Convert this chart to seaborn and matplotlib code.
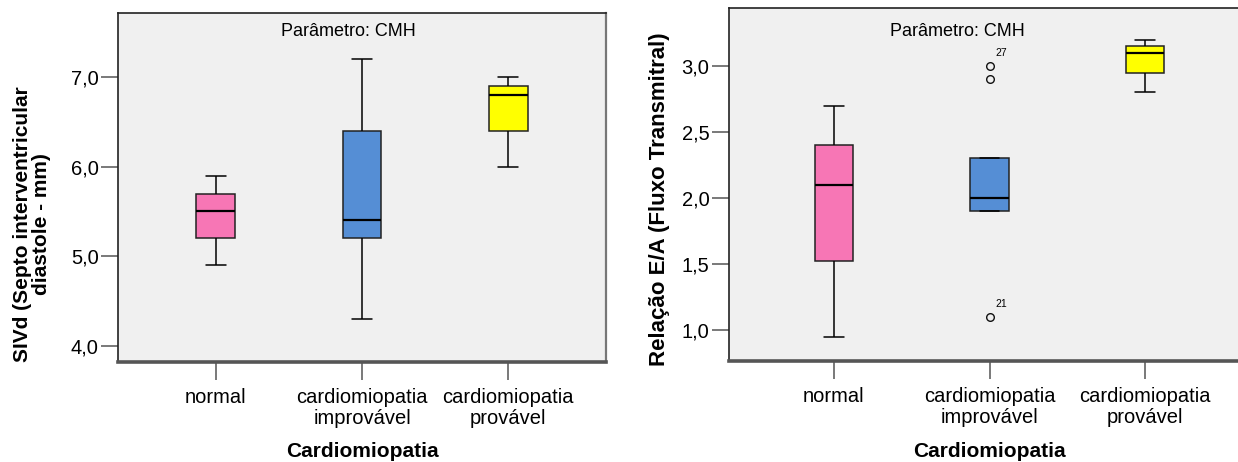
import matplotlib
matplotlib.use("Agg")
import matplotlib.pyplot as plt
import seaborn as sns
import pandas as pd

# ---------------- data ----------------
categories = ["normal", "cardiomiopatia\nimprovável", "cardiomiopatia\nprovável"]

# SIVd (mm) observations per group (estimated from the box plot)
sivd_normal = [4.9, 5.2, 5.5, 5.7, 5.9]
sivd_improvavel = [4.3, 5.2, 5.4, 6.4, 7.2]
sivd_provavel = [6.0, 6.4, 6.8, 6.9, 7.0]

# Relação E/A observations per group (estimated)
ea_normal = [0.95, 1.52, 2.1, 2.4, 2.7]
ea_improvavel = [1.1, 1.9, 1.9, 1.9, 2.0, 2.3, 2.3, 2.9, 3.0]
ea_provavel = [2.8, 2.95, 3.1, 3.15, 3.2]

sivd_ticks = [4.0, 5.0, 6.0, 7.0]
ea_ticks = [1.0, 1.5, 2.0, 2.5, 3.0]

outlier_ids = ["27", "21"]
outlier_vals = [3.0, 1.1]

colors = ["#F776B5", "#558ED5", "#FFFF00"]

title_text = "Parâmetro: CMH"
xlabel_text = "Cardiomiopatia"
ylabel_left = "SIVd (Septo interventricular\ndiastole - mm)"
ylabel_right = "Relação E/A (Fluxo Transmitral)"


def long_df(groups):
    rows = []
    for cat, vals in zip(categories, groups):
        for v in vals:
            rows.append({"grupo": cat, "valor": v})
    return pd.DataFrame(rows)


df_sivd = long_df([sivd_normal, sivd_improvavel, sivd_provavel])
df_ea = long_df([ea_normal, ea_improvavel, ea_provavel])

# ---------------- style ----------------
sns.set_style("white")
plt.rcParams["font.family"] = ["Liberation Sans", "DejaVu Sans"]
plt.rcParams["text.color"] = "#000000"
plt.rcParams["axes.labelcolor"] = "#000000"

fig = plt.figure(figsize=(12.38, 4.62), dpi=100)
W, H = 1238, 462
ax1 = fig.add_axes([118 / W, (H - 362) / H, 488 / W, 349 / H])
ax2 = fig.add_axes([729 / W, (H - 361) / H, 521 / W, 353 / H])

box_kw = dict(
    x="grupo", y="valor", hue="grupo", order=categories, hue_order=categories,
    palette=colors, saturation=1, whis=1.0, legend=False,
    linewidth=1.1, linecolor="#222222",
    flierprops=dict(marker="o", markersize=5.5, markerfacecolor="none",
                    markeredgecolor="#111111", markeredgewidth=1.0),
    medianprops=dict(color="#000000", linewidth=1.6),
    whiskerprops=dict(color="#000000", linewidth=1.1),
    capprops=dict(color="#000000", linewidth=1.1),
)

sns.boxplot(data=df_sivd, ax=ax1, width=0.267, **box_kw)
sns.boxplot(data=df_ea, ax=ax2, width=0.25, **box_kw)

ax1.set_ylim(3.82, 7.714)
ax1.set_xlim(-0.671, 2.671)
ax2.set_ylim(0.765, 3.44)
ax2.set_xlim(-0.675, 2.675)


def fmt(t):
    return f"{t:.1f}".replace(".", ",")


for ax, ticks in ((ax1, sivd_ticks), (ax2, ea_ticks)):
    ax.set_facecolor("#F0F0F0")
    ax.set_yticks(ticks)
    ax.set_yticklabels([fmt(t) for t in ticks])
    ax.set_xticks(range(len(categories)))
    ax.set_xticklabels(categories, linespacing=1.1)
    ax.tick_params(axis="y", left=True, direction="out", length=12, width=1.1,
                   color="#555555", pad=2, labelsize=14.5, labelcolor="#000000")
    ax.tick_params(axis="x", bottom=True, direction="out", length=13, width=1.1,
                   color="#555555", pad=6, labelsize=14.5, labelcolor="#000000")
    ax.set_xlabel(xlabel_text, fontsize=15, fontweight="bold", va="top")
    for s in ("top", "left"):
        ax.spines[s].set_color("#222222")
        ax.spines[s].set_linewidth(1.2)
    ax.spines["right"].set_color("#777777")
    ax.spines["right"].set_linewidth(1.6)
    ax.spines["bottom"].set_color("#555555")
    ax.spines["bottom"].set_linewidth(2.6)
    ax.grid(False)

ax1.set_ylabel(ylabel_left, fontsize=15, fontweight="bold", va="center",
               ha="center", linespacing=1.05)
ax1.yaxis.set_label_coords((32 - 118) / 488, (362 - 224) / 349)
ax2.set_ylabel(ylabel_right, fontsize=16, fontweight="bold", va="center", ha="center")
ax2.yaxis.set_label_coords((660 - 729) / 521, (361 - 199) / 353)

ax1.xaxis.set_label_coords(0.5, (362 - 442) / 349)
ax2.xaxis.set_label_coords((989 - 729) / 521, (361 - 442) / 353)

ax1.text((348 - 118) / 488, 1 - (32 - 13) / 349, title_text, transform=ax1.transAxes,
         ha="center", va="center", fontsize=13, color="#000000")
ax2.text((957 - 729) / 521, 1 - (31 - 8) / 353, title_text, transform=ax2.transAxes,
         ha="center", va="center", fontsize=13, color="#000000")

for lab, val in zip(outlier_ids, outlier_vals):
    ax2.annotate(lab, xy=(1, val), xytext=(4.3, 5.8), textcoords="offset points",
                 ha="left", va="bottom", fontsize=7.5, color="#000000")

fig.savefig("out.png", dpi=100)
